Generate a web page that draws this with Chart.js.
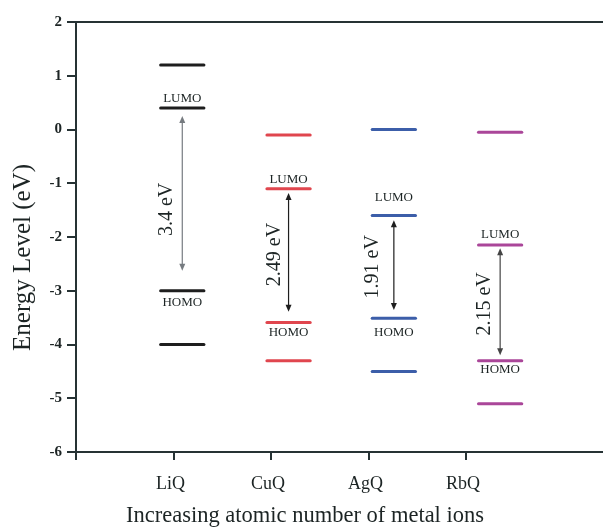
<!DOCTYPE html>
<html>
<head>
<meta charset="utf-8">
<script src="https://cdn.jsdelivr.net/npm/chart.js@4"></script>
<style>
  html, body { margin: 0; padding: 0; background: #fff; }
  #wrap { width: 603px; height: 529px; }
</style>
</head>
<body>
<div id="wrap"><canvas id="levelChart"></canvas></div>
<script>
// compounds and where their level bars sit on the x scale
const compounds = ['LiQ', 'CuQ', 'AgQ', 'RbQ'];
const compoundTicks = [1, 2, 3, 4];
const levelCenters = [1.09, 2.18, 3.26, 4.35];

// energy levels in eV
const upperLevels = [1.2, -0.1, 0.0, -0.05];
const lumoLevels = [0.4, -1.1, -1.6, -2.15];
const homoLevels = [-3.0, -3.59, -3.51, -4.3];
const lowerLevels = [-4.0, -4.3, -4.5, -5.1];

// gap arrows (eV) and their labels
const arrowTops = [0.25, -1.18, -1.69, -2.21];
const arrowBottoms = [-2.63, -3.39, -3.36, -4.2];
const gapLabels = ['3.4 eV', '2.49 eV', '1.91 eV', '2.15 eV'];

const levelColors = ['#1e1e1e', '#e0464e', '#3c5ea9', '#aa4699'];
const arrowColors = ['#767b80', '#1e1e1e', '#1e1e1e', '#444444'];
const axisColor = '#263234';
const textColor = '#1c2424';
const serif = '"Liberation Serif", "Times New Roman", serif';
const halfWidth = 0.222;

Chart.defaults.font.family = serif;
Chart.defaults.color = textColor;

const datasets = [];
compounds.forEach((name, i) => {
    [upperLevels, lumoLevels, homoLevels, lowerLevels].forEach(levels => {
        datasets.push({
            label: name,
            data: [
                { x: levelCenters[i] - halfWidth, y: levels[i] },
                { x: levelCenters[i] + halfWidth, y: levels[i] }
            ],
            borderColor: levelColors[i],
            borderWidth: 3,
            borderCapStyle: 'round',
            pointRadius: 0,
            fill: false
        });
    });
});

// arrows, LUMO/HOMO tags, gap values and axis titles
const annotations = {
    id: 'annotations',
    afterDatasetsDraw(chart) {
        const { ctx, scales: { x, y } } = chart;
        const lumoShift = [-9, -9, -17.5, -10];
        const homoShift = [11.5, 10.5, 14.5, 9];
        const gapShiftX = [-15.5, -14, -21.5, -15];
        const gapShiftY = [10, -1, 0, 1];
        ctx.save();
        compounds.forEach((name, i) => {
            const px = x.getPixelForValue(levelCenters[i]);
            const top = y.getPixelForValue(arrowTops[i]);
            const bot = y.getPixelForValue(arrowBottoms[i]);

            ctx.strokeStyle = arrowColors[i];
            ctx.fillStyle = arrowColors[i];
            ctx.lineWidth = 1.2;
            ctx.beginPath();
            ctx.moveTo(px, top + 5);
            ctx.lineTo(px, bot - 5);
            ctx.stroke();
            ctx.beginPath();
            ctx.moveTo(px, top);
            ctx.lineTo(px - 3, top + 7);
            ctx.lineTo(px + 3, top + 7);
            ctx.closePath();
            ctx.fill();
            ctx.beginPath();
            ctx.moveTo(px, bot);
            ctx.lineTo(px - 3, bot - 7);
            ctx.lineTo(px + 3, bot - 7);
            ctx.closePath();
            ctx.fill();

            ctx.fillStyle = textColor;
            ctx.textAlign = 'center';
            ctx.textBaseline = 'middle';
            ctx.font = '13px ' + serif;
            ctx.fillText('LUMO', px, y.getPixelForValue(lumoLevels[i]) + lumoShift[i]);
            ctx.fillText('HOMO', px, y.getPixelForValue(homoLevels[i]) + homoShift[i]);

            const mid = (y.getPixelForValue(lumoLevels[i]) + y.getPixelForValue(homoLevels[i])) / 2;
            ctx.save();
            ctx.translate(px + gapShiftX[i], mid + gapShiftY[i]);
            ctx.rotate(-Math.PI / 2);
            ctx.font = '20px ' + serif;
            ctx.fillText(gapLabels[i], 0, 0);
            ctx.restore();
        });

        ctx.fillStyle = textColor;
        ctx.textAlign = 'center';
        ctx.textBaseline = 'middle';
        ctx.font = '22.5px ' + serif;
        ctx.fillText('Increasing atomic number of metal ions', 305, 516);

        ctx.save();
        ctx.translate(23, 257.5);
        ctx.rotate(-Math.PI / 2);
        ctx.font = '25px ' + serif;
        ctx.fillText('Energy Level (eV)', 0, 0);
        ctx.restore();
        ctx.restore();
    }
};

new Chart(document.getElementById('levelChart'), {
    type: 'line',
    data: { datasets: datasets },
    options: {
        responsive: true,
        maintainAspectRatio: false,
        animation: false,
        layout: { padding: { top: 22, right: 0, bottom: 0, left: 0 } },
        plugins: {
            legend: { display: false },
            tooltip: { enabled: false }
        },
        scales: {
            x: {
                type: 'linear',
                min: 0,
                max: 5.405,
                afterBuildTicks: scale => {
                    scale.ticks = [0, ...compoundTicks].map(v => ({ value: v }));
                },
                afterFit: scale => { scale.height = 77; },
                ticks: {
                    autoSkip: false,
                    maxRotation: 0,
                    padding: 13,
                    labelOffset: -3,
                    color: textColor,
                    font: { size: 18 },
                    callback: value => compounds[compoundTicks.indexOf(value)] || ''
                },
                grid: {
                    drawOnChartArea: false,
                    drawTicks: true,
                    tickLength: 8,
                    color: axisColor,
                    lineWidth: 2
                },
                border: { display: true, color: axisColor, width: 2 }
            },
            xTop: {
                type: 'linear',
                position: 'top',
                min: 0,
                max: 1,
                afterFit: scale => { scale.height = 0; },
                ticks: { display: false },
                grid: { display: false },
                border: { display: true, color: axisColor, width: 2 }
            },
            y: {
                min: -6,
                max: 2,
                afterFit: scale => { scale.width = 76; },
                ticks: {
                    stepSize: 1,
                    padding: 5,
                    color: textColor,
                    font: { size: 15, weight: 'bold' }
                },
                grid: {
                    drawOnChartArea: false,
                    drawTicks: true,
                    tickLength: 9,
                    color: axisColor,
                    lineWidth: 2
                },
                border: { display: true, color: axisColor, width: 2 }
            }
        }
    },
    plugins: [annotations]
});
</script>
</body>
</html>
